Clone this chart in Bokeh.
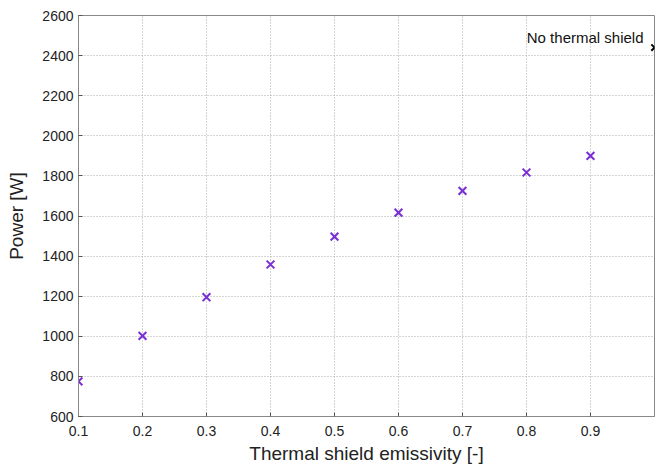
from bokeh.plotting import figure
from bokeh.models import FixedTicker, Range1d, Label
from bokeh.embed import file_html
from bokeh.resources import INLINE

emissivity = [0.1, 0.2, 0.3, 0.4, 0.5, 0.6, 0.7, 0.8, 0.9]
power = [775, 1002, 1195, 1358, 1497, 1617, 1725, 1817, 1900]
no_shield_x = [1.0]
no_shield_y = [2440]
x_ticks = [0.1, 0.2, 0.3, 0.4, 0.5, 0.6, 0.7, 0.8, 0.9]
y_ticks = [600, 800, 1000, 1200, 1400, 1600, 1800, 2000, 2200, 2400, 2600]

FONT = "Liberation Sans"

p = figure(width=657, height=469, output_backend="svg", toolbar_location=None,
           x_range=Range1d(0.1, 1.0), y_range=Range1d(600, 2600),
           min_border_left=78, min_border_right=3, min_border_top=15, min_border_bottom=53)

p.scatter(emissivity, power, marker="x", size=11, line_color="#7a2fd6", line_width=2)
p.scatter(no_shield_x, no_shield_y, marker="x", size=9, line_color="black", line_width=2)

p.add_layout(Label(x=1.0, y=2440, text="No thermal shield", x_offset=-11, y_offset=2,
                   text_align="right", text_baseline="bottom",
                   text_font=FONT, text_font_size="15px", text_color="#111111"))

for ax in [p.xaxis[0], p.yaxis[0]]:
    ax.major_tick_in = 4
    ax.major_tick_out = 0
    ax.minor_tick_line_color = None
    ax.axis_line_color = "#888888"
    ax.major_tick_line_color = "#555555"
    ax.major_label_text_font = FONT
    ax.major_label_text_font_size = "14px"
    ax.major_label_text_color = "#222222"
    ax.axis_label_text_font = FONT
    ax.axis_label_text_font_size = "19px"
    ax.axis_label_text_font_style = "normal"
    ax.axis_label_text_color = "#222222"

p.xaxis.ticker = FixedTicker(ticks=x_ticks)
p.yaxis.ticker = FixedTicker(ticks=y_ticks)
p.xaxis.axis_label = "Thermal shield emissivity [-]"
p.yaxis.axis_label = "Power [W]"
p.xaxis.major_label_standoff = 9
p.yaxis.major_label_standoff = 5
p.xaxis.axis_label_standoff = 4
p.yaxis.axis_label_standoff = 12

p.xgrid.ticker = FixedTicker(ticks=x_ticks)
p.ygrid.ticker = FixedTicker(ticks=y_ticks)
for g in [p.xgrid[0], p.ygrid[0]]:
    g.grid_line_color = "#aaaaaa"
    g.grid_line_dash = "1 2"
    g.grid_line_width = 1

p.outline_line_color = "#888888"
p.background_fill_color = "white"
p.border_fill_color = "white"

open("out.html", "w").write(file_html(p, INLINE))
